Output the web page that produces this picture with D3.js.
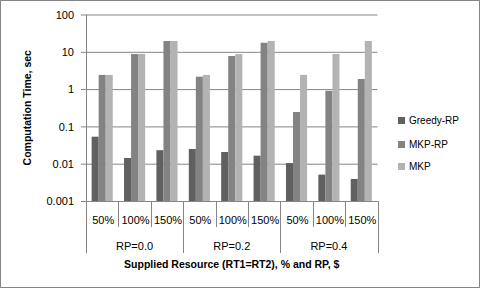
<html lang="en">
<head>
<meta charset="UTF-8">
<title>Computation Time</title>
<style>
  body { margin: 0; background: #fff; }
  text { font-family: "Liberation Sans", Arial, sans-serif; fill: #000; }
</style>
</head>
<body>
<svg width="481" height="289"></svg>
<script src="https://d3js.org/d3.v7.min.js"></script>
<script>
(function() {
    'use strict';

    var resources = ["50%", "100%", "150%"];
    var groups = ["RP=0.0", "RP=0.2", "RP=0.4"];
    var seriesNames = ["Greedy-RP", "MKP-RP", "MKP"];
    var greedyRP = [0.053, 0.0142, 0.023, 0.0248, 0.0206, 0.0164, 0.0104, 0.0051, 0.0039];
    var mkpRP = [2.4, 8.7, 19.5, 2.15, 7.7, 17.5, 0.243, 0.9, 1.87];
    var mkp = [2.4, 8.8, 19.5, 2.4, 8.7, 19.5, 2.4, 8.7, 19.5];
    var yTicks = [0.001, 0.01, 0.1, 1, 10, 100];
    var colors = ["#606060", "#838383", "#b3b3b3"];

    var LEFT = 86, RIGHT = 377.5, TOP = 14.5, BOTTOM = 201;

    var svg = d3.select("svg");
    svg.append("rect")
        .attr("x", 0.5).attr("y", 0.5).attr("width", 479).attr("height", 287)
        .attr("fill", "#fff").attr("stroke", "#868686");

    // one slot per (group, resource)
    var slots = [];
    groups.forEach(function(g, gi) {
        resources.forEach(function(r, ri) {
            slots.push({ group: g, res: r, idx: gi * 3 + ri });
        });
    });

    var x = d3.scaleBand().domain(slots.map(function(d) { return d.idx; }))
        .range([LEFT, RIGHT]).padding(0);
    var inner = d3.scaleBand().domain(seriesNames)
        .range([0, x.bandwidth()]).paddingInner(0).paddingOuter(0.8);
    var y = d3.scaleLog().domain([0.001, 100]).range([BOTTOM, TOP]);

    // grid lines
    var yAxis = d3.axisLeft(y).tickValues(yTicks)
        .tickSize(-(RIGHT - LEFT))
        .tickFormat(function(d) { return d >= 1 ? d3.format("d")(d) : String(d); });
    var ga = svg.append("g").attr("transform", "translate(" + LEFT + ",0)").call(yAxis);
    ga.select(".domain").remove();
    ga.selectAll(".tick line").attr("stroke", "#868686").attr("x1", -5);
    ga.selectAll(".tick text").attr("x", -12).attr("dy", "0.35em")
        .style("font-size", "11px").style("font-family", "'Liberation Sans', Arial, sans-serif");

    svg.append("line")
        .attr("x1", LEFT + 0.5).attr("x2", LEFT + 0.5)
        .attr("y1", TOP).attr("y2", BOTTOM)
        .attr("stroke", "#868686");

    // bars
    var values = [greedyRP, mkpRP, mkp];
    seriesNames.forEach(function(name, si) {
        svg.append("g").selectAll("rect")
            .data(slots)
            .enter()
            .append("rect")
            .attr("x", function(d) { return x(d.idx) + inner(name); })
            .attr("width", inner.bandwidth())
            .attr("y", function(d) { return y(values[si][d.idx]); })
            .attr("height", function(d) { return BOTTOM - y(values[si][d.idx]); })
            .attr("fill", colors[si]);
    });

    // category axis
    svg.append("line")
        .attr("x1", LEFT).attr("x2", RIGHT)
        .attr("y1", BOTTOM + 0.5).attr("y2", BOTTOM + 0.5)
        .attr("stroke", "#868686");

    var edges = slots.map(function(d) { return d.idx; }).concat([slots.length]);
    svg.append("g").selectAll("line")
        .data(edges)
        .enter()
        .append("line")
        .attr("x1", function(d) { return Math.round(LEFT + d * x.bandwidth()) + 0.5; })
        .attr("x2", function(d) { return Math.round(LEFT + d * x.bandwidth()) + 0.5; })
        .attr("y1", BOTTOM)
        .attr("y2", function(d) { return d % 3 === 0 ? 253 : 227; })
        .attr("stroke", "#868686");

    svg.append("g").selectAll("text")
        .data(slots)
        .enter()
        .append("text")
        .attr("x", function(d) { return x(d.idx) + x.bandwidth() / 2 + 1; })
        .attr("y", 224)
        .attr("text-anchor", "middle")
        .style("font-size", "11px")
        .text(function(d) { return d.res; });

    svg.append("g").selectAll("text")
        .data(groups)
        .enter()
        .append("text")
        .attr("x", function(d, i) { return x(i * 3) + x.bandwidth() * 1.5; })
        .attr("y", 250)
        .attr("text-anchor", "middle")
        .style("font-size", "11px")
        .text(function(d) { return d; });

    // axis titles
    svg.append("text")
        .attr("x", (LEFT + RIGHT) / 2)
        .attr("y", 268)
        .attr("text-anchor", "middle")
        .style("font-size", "10.5px")
        .style("font-weight", "bold")
        .text("Supplied Resource (RT1=RT2), % and RP, $");

    svg.append("text")
        .attr("transform", "translate(31," + ((TOP + BOTTOM) / 2) + ") rotate(-90)")
        .attr("text-anchor", "middle")
        .style("font-size", "10.5px")
        .style("font-weight", "bold")
        .text("Computation Time, sec");

    // legend
    var legend = svg.append("g").selectAll("g")
        .data(seriesNames)
        .enter()
        .append("g")
        .attr("transform", function(d, i) { return "translate(398," + [117, 141, 163][i] + ")"; });
    legend.append("rect")
        .attr("width", 7).attr("height", 7)
        .attr("fill", function(d, i) { return colors[i]; });
    legend.append("text")
        .attr("x", 11).attr("y", 3.5).attr("dy", "0.35em")
        .style("font-size", "10px")
        .text(function(d) { return d; });
})();
</script>
</body>
</html>
